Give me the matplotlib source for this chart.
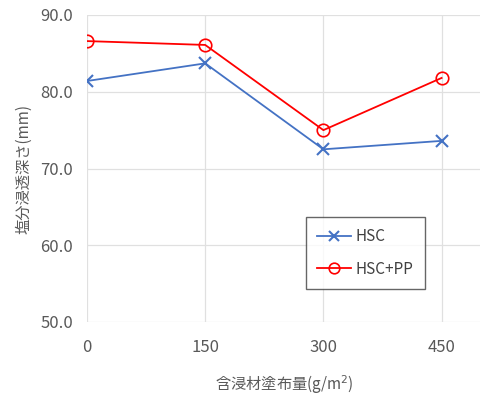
import matplotlib.pyplot as plt

plt.rcParams['font.family'] = ['Noto Sans CJK JP', 'DejaVu Sans']

# Data
x_vals = [0, 150, 300, 450]
hsc = [81.4, 83.7, 72.5, 73.6]
hsc_pp = [86.6, 86.1, 75.0, 81.8]
y_ticks = [50, 60, 70, 80, 90]

fig = plt.figure(figsize=(4.81, 3.97), dpi=100)
ax = fig.add_axes([87 / 481, 1 - 322 / 397, 1 - 87 / 481, (322 - 15) / 397])

ax.plot(x_vals, hsc, color='#4472C4', marker='x', markersize=9, markeredgewidth=1.5,
        linewidth=1.3, label='HSC')
ax.plot(x_vals, hsc_pp, color='#FF0000', marker='o', markersize=9, markerfacecolor='none',
        markeredgewidth=1.2, linewidth=1.3, label='HSC+PP')

ax.set_xlim(0, 500)
ax.set_ylim(50, 90)
ax.set_xticks(x_vals)
ax.set_yticks(y_ticks)
ax.set_yticklabels([f'{v:.1f}' for v in y_ticks])
ax.grid(True, color='#E0E0E0', linewidth=0.9)
ax.set_axisbelow(True)
for s in ax.spines.values():
    s.set_visible(False)
ax.tick_params(length=0, colors='#595959', labelsize=12, pad=10)
ax.tick_params(axis='x', pad=12)

ax.set_ylabel('塩分浸透深さ(mm)', color='#595959', fontsize=11, labelpad=6)
ax.set_xlabel('含浸材塗布量(g/m$^2$)', color='#595959', fontsize=11, labelpad=13)

leg = ax.legend(loc='upper left', bbox_to_anchor=((306 - 87) / 394, (322 - 217) / 307),
                frameon=True, fancybox=False, edgecolor='#404040', fontsize=11,
                handlelength=2.2, labelspacing=1.0, borderpad=0.75, handletextpad=0.3,
                borderaxespad=0, markerscale=0.85)
leg.get_frame().set_linewidth(1.0)
for t in leg.get_texts():
    t.set_color('#404040')

fig.savefig('out.png', dpi=100)
